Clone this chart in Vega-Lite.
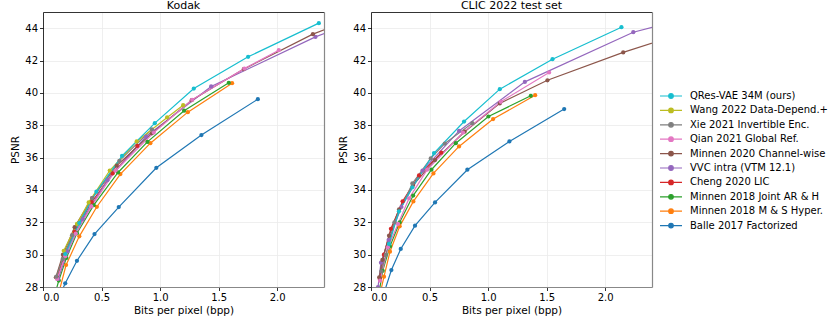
{
  "$schema": "https://vega.github.io/schema/vega-lite/v6.json",
  "background": "white",
  "padding": {"left": 10, "top": 0, "right": 0, "bottom": 0},
  "config": {
    "font": "DejaVu Sans",
    "view": {"stroke": null},
    "axis": {"labelFont": "DejaVu Sans", "labelFontSize": 10, "labelColor": "#000", "titleFont": "DejaVu Sans", "titleFontSize": 10.5, "titleFontWeight": "normal", "titleColor": "#000", "tickColor": "#000", "tickSize": 3.5, "tickWidth": 0.8, "domainColor": "#000", "domainWidth": 0.8, "gridColor": "#ebebeb", "gridWidth": 0.8, "labelPadding": 2},
    "title": {"font": "DejaVu Sans", "fontSize": 11, "fontWeight": "normal", "color": "#000", "offset": 1},
    "legend": {"labelFont": "DejaVu Sans", "labelFontSize": 10, "labelColor": "#000"}
  },
  "datasets": {
    "pts": [
      {"panel":"Kodak","method":"Balle 2017 Factorized","bpp":0.12,"psnr":27.1},
      {"panel":"Kodak","method":"Balle 2017 Factorized","bpp":0.19,"psnr":28.23},
      {"panel":"Kodak","method":"Balle 2017 Factorized","bpp":0.29,"psnr":29.62},
      {"panel":"Kodak","method":"Balle 2017 Factorized","bpp":0.44,"psnr":31.27},
      {"panel":"Kodak","method":"Balle 2017 Factorized","bpp":0.647,"psnr":32.94},
      {"panel":"Kodak","method":"Balle 2017 Factorized","bpp":0.968,"psnr":35.37},
      {"panel":"Kodak","method":"Balle 2017 Factorized","bpp":1.353,"psnr":37.39},
      {"panel":"Kodak","method":"Balle 2017 Factorized","bpp":1.835,"psnr":39.61},
      {"panel":"Kodak","method":"Minnen 2018 M & S Hyper.","bpp":0.13,"psnr":27.5},
      {"panel":"Kodak","method":"Minnen 2018 M & S Hyper.","bpp":0.197,"psnr":29.36},
      {"panel":"Kodak","method":"Minnen 2018 M & S Hyper.","bpp":0.31,"psnr":31.13},
      {"panel":"Kodak","method":"Minnen 2018 M & S Hyper.","bpp":0.46,"psnr":32.96},
      {"panel":"Kodak","method":"Minnen 2018 M & S Hyper.","bpp":0.661,"psnr":34.98},
      {"panel":"Kodak","method":"Minnen 2018 M & S Hyper.","bpp":0.917,"psnr":36.89},
      {"panel":"Kodak","method":"Minnen 2018 M & S Hyper.","bpp":1.237,"psnr":38.81},
      {"panel":"Kodak","method":"Minnen 2018 M & S Hyper.","bpp":1.615,"psnr":40.6},
      {"panel":"Kodak","method":"Minnen 2018 Joint AR & H","bpp":0.1,"psnr":27.5},
      {"panel":"Kodak","method":"Minnen 2018 Joint AR & H","bpp":0.135,"psnr":28.4},
      {"panel":"Kodak","method":"Minnen 2018 Joint AR & H","bpp":0.2,"psnr":29.8},
      {"panel":"Kodak","method":"Minnen 2018 Joint AR & H","bpp":0.29,"psnr":31.33},
      {"panel":"Kodak","method":"Minnen 2018 Joint AR & H","bpp":0.433,"psnr":33.06},
      {"panel":"Kodak","method":"Minnen 2018 Joint AR & H","bpp":0.641,"psnr":35.08},
      {"panel":"Kodak","method":"Minnen 2018 Joint AR & H","bpp":0.892,"psnr":36.97},
      {"panel":"Kodak","method":"Minnen 2018 Joint AR & H","bpp":1.205,"psnr":38.9},
      {"panel":"Kodak","method":"Minnen 2018 Joint AR & H","bpp":1.587,"psnr":40.62},
      {"panel":"Kodak","method":"Cheng 2020 LIC","bpp":0.12,"psnr":28.58},
      {"panel":"Kodak","method":"Cheng 2020 LIC","bpp":0.184,"psnr":29.97},
      {"panel":"Kodak","method":"Cheng 2020 LIC","bpp":0.27,"psnr":31.41},
      {"panel":"Kodak","method":"Cheng 2020 LIC","bpp":0.416,"psnr":33.25},
      {"panel":"Kodak","method":"Cheng 2020 LIC","bpp":0.595,"psnr":35.02},
      {"panel":"Kodak","method":"Cheng 2020 LIC","bpp":0.806,"psnr":36.72},
      {"panel":"Kodak","method":"VVC intra (VTM 12.1)","bpp":0.13,"psnr":28.5},
      {"panel":"Kodak","method":"VVC intra (VTM 12.1)","bpp":0.21,"psnr":30.2},
      {"panel":"Kodak","method":"VVC intra (VTM 12.1)","bpp":0.34,"psnr":32.2},
      {"panel":"Kodak","method":"VVC intra (VTM 12.1)","bpp":0.55,"psnr":34.6},
      {"panel":"Kodak","method":"VVC intra (VTM 12.1)","bpp":0.88,"psnr":37.3},
      {"panel":"Kodak","method":"VVC intra (VTM 12.1)","bpp":1.436,"psnr":40.4},
      {"panel":"Kodak","method":"VVC intra (VTM 12.1)","bpp":2.327,"psnr":43.46},
      {"panel":"Kodak","method":"VVC intra (VTM 12.1)","bpp":3.0,"psnr":45.3},
      {"panel":"Kodak","method":"Minnen 2020 Channel-wise","bpp":0.11,"psnr":28.6},
      {"panel":"Kodak","method":"Minnen 2020 Channel-wise","bpp":0.17,"psnr":30.0},
      {"panel":"Kodak","method":"Minnen 2020 Channel-wise","bpp":0.27,"psnr":31.7},
      {"panel":"Kodak","method":"Minnen 2020 Channel-wise","bpp":0.42,"psnr":33.5},
      {"panel":"Kodak","method":"Minnen 2020 Channel-wise","bpp":0.63,"psnr":35.5},
      {"panel":"Kodak","method":"Minnen 2020 Channel-wise","bpp":0.93,"psnr":37.5},
      {"panel":"Kodak","method":"Minnen 2020 Channel-wise","bpp":1.27,"psnr":39.55},
      {"panel":"Kodak","method":"Minnen 2020 Channel-wise","bpp":1.715,"psnr":41.47},
      {"panel":"Kodak","method":"Minnen 2020 Channel-wise","bpp":2.305,"psnr":43.63},
      {"panel":"Kodak","method":"Minnen 2020 Channel-wise","bpp":3.0,"psnr":45.6},
      {"panel":"Kodak","method":"Qian 2021 Global Ref.","bpp":0.12,"psnr":28.5},
      {"panel":"Kodak","method":"Qian 2021 Global Ref.","bpp":0.19,"psnr":29.9},
      {"panel":"Kodak","method":"Qian 2021 Global Ref.","bpp":0.28,"psnr":31.3},
      {"panel":"Kodak","method":"Qian 2021 Global Ref.","bpp":0.413,"psnr":32.98},
      {"panel":"Kodak","method":"Qian 2021 Global Ref.","bpp":0.62,"psnr":35.2},
      {"panel":"Kodak","method":"Qian 2021 Global Ref.","bpp":0.946,"psnr":37.55},
      {"panel":"Kodak","method":"Qian 2021 Global Ref.","bpp":1.274,"psnr":39.57},
      {"panel":"Kodak","method":"Qian 2021 Global Ref.","bpp":1.72,"psnr":41.5},
      {"panel":"Kodak","method":"Qian 2021 Global Ref.","bpp":2.014,"psnr":42.64},
      {"panel":"Kodak","method":"Xie 2021 Invertible Enc.","bpp":0.114,"psnr":28.64},
      {"panel":"Kodak","method":"Xie 2021 Invertible Enc.","bpp":0.168,"psnr":29.73},
      {"panel":"Kodak","method":"Xie 2021 Invertible Enc.","bpp":0.248,"psnr":31.2},
      {"panel":"Kodak","method":"Xie 2021 Invertible Enc.","bpp":0.42,"psnr":33.5},
      {"panel":"Kodak","method":"Xie 2021 Invertible Enc.","bpp":0.652,"psnr":35.8},
      {"panel":"Kodak","method":"Xie 2021 Invertible Enc.","bpp":0.93,"psnr":37.75},
      {"panel":"Kodak","method":"Wang 2022 Data-Depend.+","bpp":0.177,"psnr":30.24},
      {"panel":"Kodak","method":"Wang 2022 Data-Depend.+","bpp":0.29,"psnr":31.9},
      {"panel":"Kodak","method":"Wang 2022 Data-Depend.+","bpp":0.39,"psnr":33.23},
      {"panel":"Kodak","method":"Wang 2022 Data-Depend.+","bpp":0.57,"psnr":35.2},
      {"panel":"Kodak","method":"Wang 2022 Data-Depend.+","bpp":0.8,"psnr":37.0},
      {"panel":"Kodak","method":"Wang 2022 Data-Depend.+","bpp":1.06,"psnr":38.48},
      {"panel":"Kodak","method":"Wang 2022 Data-Depend.+","bpp":1.197,"psnr":39.24},
      {"panel":"Kodak","method":"QRes-VAE 34M (ours)","bpp":0.19,"psnr":30.04},
      {"panel":"Kodak","method":"QRes-VAE 34M (ours)","bpp":0.31,"psnr":31.95},
      {"panel":"Kodak","method":"QRes-VAE 34M (ours)","bpp":0.456,"psnr":33.89},
      {"panel":"Kodak","method":"QRes-VAE 34M (ours)","bpp":0.675,"psnr":36.11},
      {"panel":"Kodak","method":"QRes-VAE 34M (ours)","bpp":0.955,"psnr":38.13},
      {"panel":"Kodak","method":"QRes-VAE 34M (ours)","bpp":1.288,"psnr":40.27},
      {"panel":"Kodak","method":"QRes-VAE 34M (ours)","bpp":1.752,"psnr":42.23},
      {"panel":"Kodak","method":"QRes-VAE 34M (ours)","bpp":2.356,"psnr":44.31},

      {"panel":"CLIC","method":"Balle 2017 Factorized","bpp":0.11,"psnr":27.6},
      {"panel":"CLIC","method":"Balle 2017 Factorized","bpp":0.174,"psnr":29.05},
      {"panel":"CLIC","method":"Balle 2017 Factorized","bpp":0.254,"psnr":30.35},
      {"panel":"CLIC","method":"Balle 2017 Factorized","bpp":0.376,"psnr":31.79},
      {"panel":"CLIC","method":"Balle 2017 Factorized","bpp":0.547,"psnr":33.23},
      {"panel":"CLIC","method":"Balle 2017 Factorized","bpp":0.823,"psnr":35.25},
      {"panel":"CLIC","method":"Balle 2017 Factorized","bpp":1.182,"psnr":37.0},
      {"panel":"CLIC","method":"Balle 2017 Factorized","bpp":1.65,"psnr":39.0},
      {"panel":"CLIC","method":"Minnen 2018 M & S Hyper.","bpp":0.075,"psnr":27.5},
      {"panel":"CLIC","method":"Minnen 2018 M & S Hyper.","bpp":0.111,"psnr":28.64},
      {"panel":"CLIC","method":"Minnen 2018 M & S Hyper.","bpp":0.162,"psnr":30.18},
      {"panel":"CLIC","method":"Minnen 2018 M & S Hyper.","bpp":0.245,"psnr":31.75},
      {"panel":"CLIC","method":"Minnen 2018 M & S Hyper.","bpp":0.362,"psnr":33.29},
      {"panel":"CLIC","method":"Minnen 2018 M & S Hyper.","bpp":0.533,"psnr":35.02},
      {"panel":"CLIC","method":"Minnen 2018 M & S Hyper.","bpp":0.752,"psnr":36.69},
      {"panel":"CLIC","method":"Minnen 2018 M & S Hyper.","bpp":1.043,"psnr":38.38},
      {"panel":"CLIC","method":"Minnen 2018 M & S Hyper.","bpp":1.402,"psnr":39.86},
      {"panel":"CLIC","method":"Minnen 2018 Joint AR & H","bpp":0.07,"psnr":27.7},
      {"panel":"CLIC","method":"Minnen 2018 Joint AR & H","bpp":0.1,"psnr":29.0},
      {"panel":"CLIC","method":"Minnen 2018 Joint AR & H","bpp":0.162,"psnr":30.51},
      {"panel":"CLIC","method":"Minnen 2018 Joint AR & H","bpp":0.245,"psnr":32.0},
      {"panel":"CLIC","method":"Minnen 2018 Joint AR & H","bpp":0.36,"psnr":33.65},
      {"panel":"CLIC","method":"Minnen 2018 Joint AR & H","bpp":0.516,"psnr":35.25},
      {"panel":"CLIC","method":"Minnen 2018 Joint AR & H","bpp":0.724,"psnr":36.89},
      {"panel":"CLIC","method":"Minnen 2018 Joint AR & H","bpp":1.003,"psnr":38.54},
      {"panel":"CLIC","method":"Minnen 2018 Joint AR & H","bpp":1.365,"psnr":39.82},
      {"panel":"CLIC","method":"Cheng 2020 LIC","bpp":0.075,"psnr":28.5},
      {"panel":"CLIC","method":"Cheng 2020 LIC","bpp":0.11,"psnr":30.0},
      {"panel":"CLIC","method":"Cheng 2020 LIC","bpp":0.17,"psnr":31.6},
      {"panel":"CLIC","method":"Cheng 2020 LIC","bpp":0.27,"psnr":33.3},
      {"panel":"CLIC","method":"Cheng 2020 LIC","bpp":0.41,"psnr":34.9},
      {"panel":"CLIC","method":"Cheng 2020 LIC","bpp":0.6,"psnr":36.3},
      {"panel":"CLIC","method":"VVC intra (VTM 12.1)","bpp":0.06,"psnr":28.0},
      {"panel":"CLIC","method":"VVC intra (VTM 12.1)","bpp":0.085,"psnr":29.5},
      {"panel":"CLIC","method":"VVC intra (VTM 12.1)","bpp":0.15,"psnr":30.9},
      {"panel":"CLIC","method":"VVC intra (VTM 12.1)","bpp":0.26,"psnr":32.95},
      {"panel":"CLIC","method":"VVC intra (VTM 12.1)","bpp":0.44,"psnr":35.2},
      {"panel":"CLIC","method":"VVC intra (VTM 12.1)","bpp":0.752,"psnr":37.65},
      {"panel":"CLIC","method":"VVC intra (VTM 12.1)","bpp":1.314,"psnr":40.68},
      {"panel":"CLIC","method":"VVC intra (VTM 12.1)","bpp":2.24,"psnr":43.75},
      {"panel":"CLIC","method":"VVC intra (VTM 12.1)","bpp":3.0,"psnr":45.2},
      {"panel":"CLIC","method":"Minnen 2020 Channel-wise","bpp":0.07,"psnr":28.6},
      {"panel":"CLIC","method":"Minnen 2020 Channel-wise","bpp":0.097,"psnr":29.67},
      {"panel":"CLIC","method":"Minnen 2020 Channel-wise","bpp":0.154,"psnr":31.17},
      {"panel":"CLIC","method":"Minnen 2020 Channel-wise","bpp":0.24,"psnr":32.8},
      {"panel":"CLIC","method":"Minnen 2020 Channel-wise","bpp":0.36,"psnr":34.3},
      {"panel":"CLIC","method":"Minnen 2020 Channel-wise","bpp":0.547,"psnr":35.85},
      {"panel":"CLIC","method":"Minnen 2020 Channel-wise","bpp":0.8,"psnr":37.6},
      {"panel":"CLIC","method":"Minnen 2020 Channel-wise","bpp":1.1,"psnr":39.35},
      {"panel":"CLIC","method":"Minnen 2020 Channel-wise","bpp":1.507,"psnr":40.78},
      {"panel":"CLIC","method":"Minnen 2020 Channel-wise","bpp":2.154,"psnr":42.5},
      {"panel":"CLIC","method":"Minnen 2020 Channel-wise","bpp":2.8,"psnr":44.0},
      {"panel":"CLIC","method":"Qian 2021 Global Ref.","bpp":0.077,"psnr":28.39},
      {"panel":"CLIC","method":"Qian 2021 Global Ref.","bpp":0.145,"psnr":30.45},
      {"panel":"CLIC","method":"Qian 2021 Global Ref.","bpp":0.231,"psnr":31.9},
      {"panel":"CLIC","method":"Qian 2021 Global Ref.","bpp":0.325,"psnr":33.48},
      {"panel":"CLIC","method":"Qian 2021 Global Ref.","bpp":0.48,"psnr":35.25},
      {"panel":"CLIC","method":"Qian 2021 Global Ref.","bpp":0.786,"psnr":37.55},
      {"panel":"CLIC","method":"Qian 2021 Global Ref.","bpp":1.108,"psnr":39.45},
      {"panel":"CLIC","method":"Qian 2021 Global Ref.","bpp":1.521,"psnr":41.26},
      {"panel":"CLIC","method":"Xie 2021 Invertible Enc.","bpp":0.088,"psnr":28.97},
      {"panel":"CLIC","method":"Xie 2021 Invertible Enc.","bpp":0.126,"psnr":29.98},
      {"panel":"CLIC","method":"Xie 2021 Invertible Enc.","bpp":0.2,"psnr":32.0},
      {"panel":"CLIC","method":"Xie 2021 Invertible Enc.","bpp":0.353,"psnr":34.4},
      {"panel":"CLIC","method":"Xie 2021 Invertible Enc.","bpp":0.51,"psnr":35.95},
      {"panel":"CLIC","method":"Xie 2021 Invertible Enc.","bpp":0.63,"psnr":36.87},
      {"panel":"CLIC","method":"Xie 2021 Invertible Enc.","bpp":0.866,"psnr":38.13},
      {"panel":"CLIC","method":"QRes-VAE 34M (ours)","bpp":0.154,"psnr":30.66},
      {"panel":"CLIC","method":"QRes-VAE 34M (ours)","bpp":0.239,"psnr":32.68},
      {"panel":"CLIC","method":"QRes-VAE 34M (ours)","bpp":0.353,"psnr":34.16},
      {"panel":"CLIC","method":"QRes-VAE 34M (ours)","bpp":0.538,"psnr":36.28},
      {"panel":"CLIC","method":"QRes-VAE 34M (ours)","bpp":0.795,"psnr":38.23},
      {"panel":"CLIC","method":"QRes-VAE 34M (ours)","bpp":1.1,"psnr":40.23},
      {"panel":"CLIC","method":"QRes-VAE 34M (ours)","bpp":1.55,"psnr":42.08},
      {"panel":"CLIC","method":"QRes-VAE 34M (ours)","bpp":2.139,"psnr":44.06}
    ]
  },
  "data": {"name": "pts"},
  "spacing": 14,
  "hconcat": [
    {
      "width": 281, "height": 275,
      "title": {"text": "Kodak", "fontWeight": "normal", "fontSize": 11},
      "transform": [{"filter": "datum.panel === 'Kodak'"}],
      "layer": [
        {"mark": {"type": "line", "strokeWidth": 1.2, "clip": true},
         "encoding": {
           "x": {"field": "bpp", "type": "quantitative", "scale": {"domain": [0, 2.4], "nice": false}, "axis": {"values": [0, 0.5, 1, 1.5, 2], "format": ".1f", "title": "Bits per pixel (bpp)", "titlePadding": 3, "domainColor": "#888", "domainWidth": 1.2}},
           "y": {"field": "psnr", "type": "quantitative", "scale": {"domain": [28, 45], "nice": false, "zero": false}, "axis": {"values": [28, 30, 32, 34, 36, 38, 40, 42, 44], "title": "PSNR", "titlePadding": 4}},
           "color": {"field": "method", "type": "nominal", "scale": {"domain": ["QRes-VAE 34M (ours)", "Wang 2022 Data-Depend.+", "Xie 2021 Invertible Enc.", "Qian 2021 Global Ref.", "Minnen 2020 Channel-wise", "VVC intra (VTM 12.1)", "Cheng 2020 LIC", "Minnen 2018 Joint AR & H", "Minnen 2018 M & S Hyper.", "Balle 2017 Factorized"], "range": ["#17becf", "#bcbd22", "#7f7f7f", "#e377c2", "#8c564b", "#9467bd", "#d62728", "#2ca02c", "#ff7f0e", "#1f77b4"]},
             "legend": {"title": null, "orient": "none", "legendX": 622, "legendY": 78, "symbolType": "M-2.2,0L2.2,0M-0.46,0A0.46,0.46,0,1,0,0.46,0A0.46,0.46,0,1,0,-0.46,0Z", "symbolSize": 100, "symbolStrokeWidth": 1.2, "labelOffset": 13, "rowPadding": 3.4}}
         }},
        {"mark": {"type": "point", "filled": true, "size": 18, "opacity": 1, "clip": true},
         "encoding": {
           "x": {"field": "bpp", "type": "quantitative", "axis": null},
           "y": {"field": "psnr", "type": "quantitative", "axis": null},
           "color": {"field": "method", "type": "nominal"}
         }},
        {"mark": {"type": "point", "opacity": 0, "clip": true},
         "encoding": {
           "x": {"field": "bpp", "type": "quantitative", "axis": {"orient": "top", "labels": false, "ticks": false, "grid": false, "title": null, "domainColor": "#000"}},
           "y": {"field": "psnr", "type": "quantitative", "axis": {"orient": "right", "labels": false, "ticks": false, "grid": false, "title": null, "domainColor": "#888", "domainWidth": 1.2}}
         }}
      ],
      "resolve": {"axis": {"x": "independent", "y": "independent"}}
    },
    {
      "width": 281, "height": 275,
      "title": {"text": "CLIC 2022 test set", "fontWeight": "normal", "fontSize": 11},
      "transform": [{"filter": "datum.panel === 'CLIC'"}],
      "layer": [
        {"mark": {"type": "line", "strokeWidth": 1.2, "clip": true},
         "encoding": {
           "x": {"field": "bpp", "type": "quantitative", "scale": {"domain": [0, 2.4], "nice": false}, "axis": {"values": [0, 0.5, 1, 1.5, 2], "format": ".1f", "title": "Bits per pixel (bpp)", "titlePadding": 3, "domainColor": "#888", "domainWidth": 1.2}},
           "y": {"field": "psnr", "type": "quantitative", "scale": {"domain": [28, 45], "nice": false, "zero": false}, "axis": {"values": [28, 30, 32, 34, 36, 38, 40, 42, 44], "title": "PSNR", "titlePadding": 4}},
           "color": {"field": "method", "type": "nominal"}
         }},
        {"mark": {"type": "point", "filled": true, "size": 18, "opacity": 1, "clip": true},
         "encoding": {
           "x": {"field": "bpp", "type": "quantitative", "axis": null},
           "y": {"field": "psnr", "type": "quantitative", "axis": null},
           "color": {"field": "method", "type": "nominal"}
         }},
        {"mark": {"type": "point", "opacity": 0, "clip": true},
         "encoding": {
           "x": {"field": "bpp", "type": "quantitative", "axis": {"orient": "top", "labels": false, "ticks": false, "grid": false, "title": null, "domainColor": "#000"}},
           "y": {"field": "psnr", "type": "quantitative", "axis": {"orient": "right", "labels": false, "ticks": false, "grid": false, "title": null, "domainColor": "#888", "domainWidth": 1.2}}
         }}
      ],
      "resolve": {"axis": {"x": "independent", "y": "independent"}}
    }
  ]
}
